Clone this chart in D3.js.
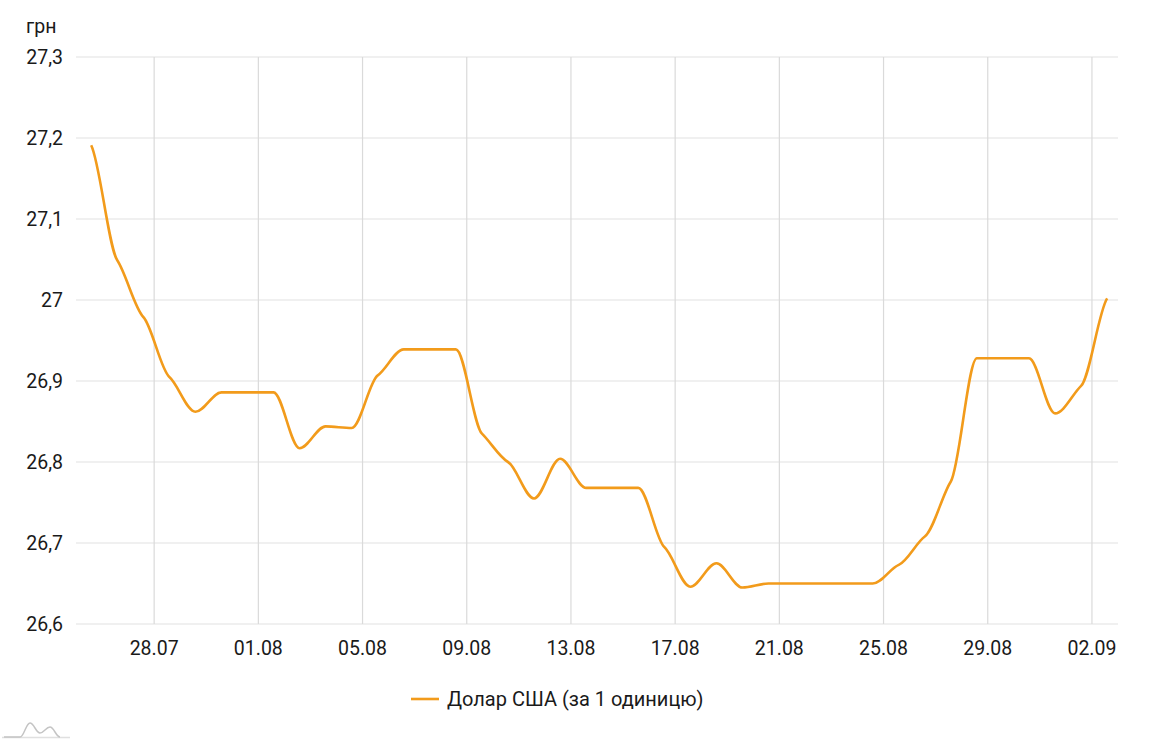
<!DOCTYPE html>
<html>
<head>
<meta charset="utf-8">
<script src="https://cdn.jsdelivr.net/npm/d3@7"></script>
<style>
  html, body { margin: 0; padding: 0; background: #fff; }
  svg { display: block; }
  text { font-family: Roboto, "Noto Sans", sans-serif; fill: #1a1a1a; }
</style>
</head>
<body>
<svg id="chart" width="1158" height="741"></svg>
<script>
// ---- data ----
const dates = [
  "2020-07-25","2020-07-26","2020-07-27","2020-07-28","2020-07-29","2020-07-30","2020-07-31",
  "2020-08-01","2020-08-02","2020-08-03","2020-08-04","2020-08-05","2020-08-06","2020-08-07",
  "2020-08-08","2020-08-09","2020-08-10","2020-08-11","2020-08-12","2020-08-13","2020-08-14",
  "2020-08-15","2020-08-16","2020-08-17","2020-08-18","2020-08-19","2020-08-20","2020-08-21",
  "2020-08-22","2020-08-23","2020-08-24","2020-08-25","2020-08-26","2020-08-27","2020-08-28",
  "2020-08-29","2020-08-30","2020-08-31","2020-09-01","2020-09-02"
];
const usdValues = [
  27.191, 27.049, 26.979, 26.905, 26.862, 26.886, 26.886, 26.886, 26.817, 26.844,
  26.842, 26.907, 26.939, 26.939, 26.939, 26.835, 26.800, 26.755, 26.804, 26.768,
  26.768, 26.768, 26.695, 26.646, 26.675, 26.645, 26.650, 26.650, 26.650, 26.650,
  26.650, 26.673, 26.708, 26.776, 26.928, 26.928, 26.928, 26.860, 26.894, 27.002
];
const xTickDates = ["2020-07-28","2020-08-01","2020-08-05","2020-08-09","2020-08-13",
                    "2020-08-17","2020-08-21","2020-08-25","2020-08-29","2020-09-02"];
const yTickValues = [26.6, 26.7, 26.8, 26.9, 27.0, 27.1, 27.2, 27.3];
const yTickLabels = ["26,6","26,7","26,8","26,9","27","27,1","27,2","27,3"];
const yUnit = "грн";
const seriesName = "Долар США (за 1 одиницю)";
const xDomain = ["2020-07-25", "2020-09-03"];

// ---- layout ----
const svg = d3.select("#chart");
const mLeft = 76, mRight = 1118, mTop = 57, mBottom = 624;
const parse = s => new Date(s + "T00:00:00Z");
const pointOffset = 14 * 3600 * 1000; // observations plotted within the day

const x = d3.scaleUtc().domain(xDomain.map(parse)).range([mLeft, mRight]);
const y = d3.scaleLinear().domain([26.6, 27.3]).range([mBottom, mTop]);

const data = dates.map((d, i) => ({ t: new Date(parse(d).getTime() + pointOffset), v: usdValues[i] }));

// monotone curve with softened tangents (gives slight kinks at points)
function softMonotone(context) {
  let pts = [];
  const k = 0.45;
  return {
    lineStart() { pts = []; },
    lineEnd() {
      const n = pts.length;
      if (!n) return;
      const s = [], t = [];
      for (let i = 0; i < n - 1; i++) s.push((pts[i+1][1] - pts[i][1]) / (pts[i+1][0] - pts[i][0]));
      for (let i = 0; i < n; i++) {
        if (i === 0) t.push(s[0] || 0);
        else if (i === n - 1) t.push(s[n - 2] || 0);
        else {
          const a = s[i-1], b = s[i];
          if (a * b <= 0) t.push(0);
          else {
            const h0 = pts[i][0] - pts[i-1][0], h1 = pts[i+1][0] - pts[i][0];
            const p = (a * h1 + b * h0) / (h0 + h1);
            t.push((Math.sign(a) + Math.sign(b)) * Math.min(Math.abs(a), Math.abs(b), 0.5 * Math.abs(p)));
          }
        }
      }
      context.moveTo(pts[0][0], pts[0][1]);
      for (let i = 0; i < n - 1; i++) {
        const [x0, y0] = pts[i], [x1, y1] = pts[i+1];
        const dx = (x1 - x0) / 3;
        context.bezierCurveTo(x0 + dx, y0 + dx * t[i] * k, x1 - dx, y1 - dx * t[i+1] * k, x1, y1);
      }
    },
    point(px, py) { pts.push([+px, +py]); },
    areaStart() {}, areaEnd() {}
  };
}

// horizontal grid
svg.append("g").selectAll("line").data(yTickValues).join("line")
  .attr("x1", mLeft).attr("x2", mRight)
  .attr("y1", d => y(d)).attr("y2", d => y(d))
  .attr("stroke", "#e2e2e2").attr("stroke-width", 1.2);

// vertical grid
svg.append("g").selectAll("line").data(xTickDates).join("line")
  .attr("x1", d => x(parse(d))).attr("x2", d => x(parse(d)))
  .attr("y1", mTop).attr("y2", mBottom)
  .attr("stroke", "#dadada").attr("stroke-width", 1.2);

// y labels
svg.append("g").selectAll("text").data(yTickValues).join("text")
  .attr("x", 63).attr("y", d => y(d)).attr("dy", "0.35em")
  .attr("text-anchor", "end").attr("font-size", 19.5)
  .text((d, i) => yTickLabels[i]);

svg.append("text").attr("x", 26).attr("y", 33).attr("font-size", 19.5).text(yUnit);

// x labels
const fmt = d3.utcFormat("%d.%m");
svg.append("g").selectAll("text").data(xTickDates).join("text")
  .attr("x", d => x(parse(d))).attr("y", 655)
  .attr("text-anchor", "middle").attr("font-size", 19.5)
  .text(d => fmt(parse(d)));

// line
const line = d3.line().x(d => x(d.t)).y(d => y(d.v)).curve(softMonotone);
svg.append("path").datum(data).attr("d", line)
  .attr("fill", "none").attr("stroke", "#F29B1B").attr("stroke-width", 2.6)
  .attr("stroke-linejoin", "round").attr("stroke-linecap", "butt");

// legend
svg.append("line").attr("x1", 411).attr("x2", 439).attr("y1", 699).attr("y2", 699)
  .attr("stroke", "#F29B1B").attr("stroke-width", 2.6);
svg.append("text").attr("x", 447).attr("y", 699).attr("dy", "0.35em")
  .attr("font-size", 20).text(seriesName);

// small logo bottom-left
const logo = svg.append("g");
logo.append("line").attr("x1", 2).attr("x2", 70).attr("y1", 737.5).attr("y2", 737.5)
  .attr("stroke", "#e0e0e0").attr("stroke-width", 1.5);
logo.append("path")
  .attr("d", "M4,737 L20,737 C24,737 26,723 30,723 C34,723 36,733 40,733 C44,733 46,727 50,727 C54,727 56,737 60,737")
  .attr("fill", "none").attr("stroke", "#c4c4c4").attr("stroke-width", 1.5);
</script>
</body>
</html>
